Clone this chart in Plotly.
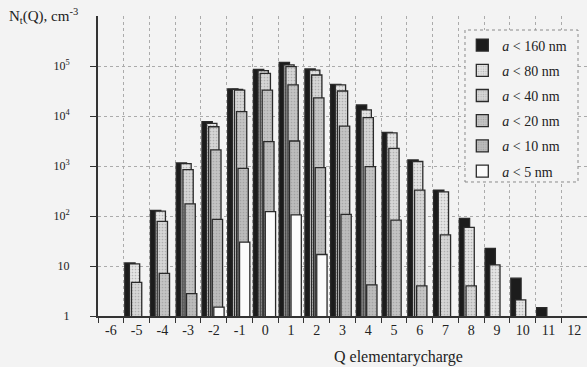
import plotly.graph_objects as go

charges = [str(q) for q in range(-6, 13)]
series_labels = ["<i>a</i> &lt; 160 nm", "<i>a</i> &lt; 80 nm", "<i>a</i> &lt; 40 nm",
                 "<i>a</i> &lt; 20 nm", "<i>a</i> &lt; 10 nm", "<i>a</i> &lt; 5 nm"]

n_a160 = [None, 11.5, 130, 1150, 7700, 35000, 86000, 118000, 87000, 43000, 16600, 4700, 1320, 330, 90, 22.6, 5.7, 1.47, None]
n_a80 = [None, 11, 125, 1120, 7100, 34000, 81000, 105000, 83000, 42000, 13200, 4600, 1230, 305, 59, 10.5, 2.1, None, None]
n_a40 = [None, 4.7, 78, 850, 6100, 33000, 71000, 97000, 66000, 31600, 9300, 2250, 330, 42, 4, None, None, None, None]
n_a20 = [None, None, 7.1, 175, 2100, 12200, 33000, 42000, 23000, 6300, 970, 83, 4, None, None, None, None, None, None]
n_a10 = [None, None, None, 2.8, 86, 900, 3070, 3160, 930, 108, 4.2, None, None, None, None, None, None, None, None]
n_a5 = [None, None, None, None, 1.5, 30, 122, 105, 17, None, None, None, None, None, None, None, None, None, None]

y_tickvals = [1, 10, 100, 1000, 10000, 100000]
y_ticktext = ["1", "10", "10<sup>2</sup>", "10<sup>3</sup>", "10<sup>4</sup>", "10<sup>5</sup>"]

series = [n_a160, n_a80, n_a40, n_a20, n_a10, n_a5]
fills = ["#1c1c1c", "#e4e4e4", "#d6d6d6", "#c4c4c4", "#bcbcbc", "#fbfbfb"]
patterns = ["", ".", ".", ".", ".", ""]
offsets = [-0.46, -0.28, -0.2, -0.12, -0.06, 0.0]

BG = "#f3f3f3"
SERIF = "Liberation Serif"

fig = go.Figure()
for i, (vals, name) in enumerate(zip(series, series_labels)):
    fig.add_trace(go.Bar(
        x=charges, y=vals, name=name,
        offset=offsets[i], width=0.4,
        legendgroup=f"g{i}",
        marker=dict(color=fills[i], line=dict(color="#2a2a2a", width=1.3),
                    pattern=dict(shape=patterns[i], fgcolor="#8a8a8a", size=3, solidity=0.25)),
    ))

fig.update_layout(
    width=587, height=367,
    margin=dict(l=98, r=0, t=16, b=51),
    barmode="overlay",
    paper_bgcolor=BG, plot_bgcolor=BG,
    font=dict(family=SERIF, color="#222222"),
    showlegend=True,
    legend=dict(x=0.745, y=0.955, xanchor="left", yanchor="top",
                bgcolor="rgba(0,0,0,0)", borderwidth=0,
                font=dict(family=SERIF, size=14, color="#222222"),
                tracegroupgap=4, itemwidth=30),
    xaxis=dict(type="category", categoryorder="array", categoryarray=charges,
               tickson="boundaries", ticks="outside", ticklen=5, tickcolor="#333",
               showline=True, linecolor="#333", linewidth=2,
               showgrid=True, gridcolor="#ababab", griddash="dot", gridwidth=1,
               tickfont=dict(family=SERIF, size=14, color="#222")),
    yaxis=dict(type="log", range=[0, 6], tickvals=y_tickvals, ticktext=y_ticktext,
               ticks="outside", ticklen=6, tickcolor="#333",
               showline=True, linecolor="#333", linewidth=2,
               showgrid=True, gridcolor="#ababab", griddash="dot", gridwidth=1,
               ticklabelstandoff=18,
               tickfont=dict(family=SERIF, size=12, color="#222")),
    shapes=[
        dict(type="rect", xref="paper", yref="paper",
             x0=0.7505, x1=0.9816, y0=0.4467, y1=0.9533,
             line=dict(color="#8a8a8a", width=1, dash="dot"), fillcolor=BG,
             layer="above"),
    ],
    annotations=[
        dict(text="N<sub>t</sub>(Q), cm<sup>-3</sup>", xref="paper", yref="paper",
             x=-0.186, y=1.0, xanchor="left", yanchor="middle", showarrow=False,
             font=dict(family=SERIF, size=15, color="#222")),
        dict(text="Q elementarycharge", xref="paper", yref="paper",
             x=0.615, y=-0.137, xanchor="center", yanchor="middle", showarrow=False,
             font=dict(family=SERIF, size=16, color="#222")),
    ],
)

fig.write_html("out.html")
